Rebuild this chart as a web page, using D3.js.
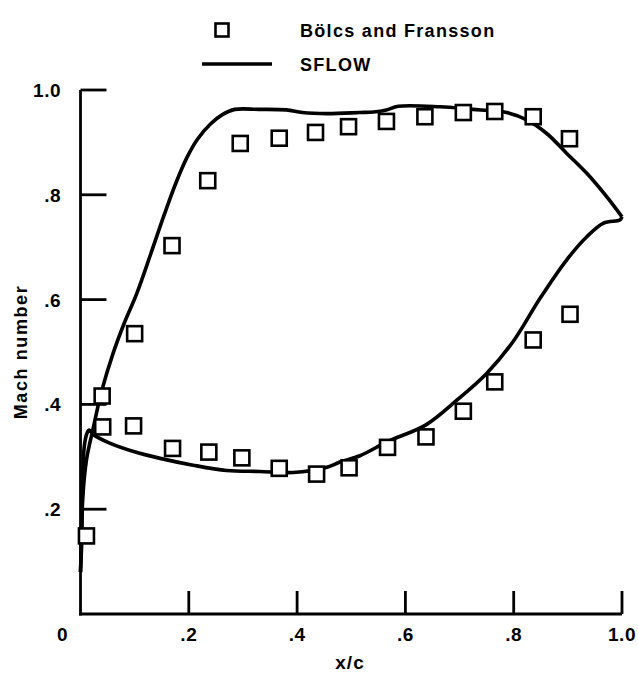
<!DOCTYPE html>
<html>
<head>
<meta charset="utf-8">
<script src="https://cdn.jsdelivr.net/npm/d3@7"></script>
<style>
  html, body { margin: 0; padding: 0; background: #fff; }
  svg text { font-family: "Liberation Sans", Arial, Helvetica, sans-serif; font-weight: bold; fill: #000; }
</style>
</head>
<body>
<svg id="chart" width="638" height="674"></svg>
<script>
// ---- data ----
const expX = [0.011, 0.040, 0.100, 0.169, 0.235, 0.295, 0.367, 0.434, 0.495, 0.565, 0.636, 0.707, 0.765, 0.836, 0.903];
const expUpper = [null, 0.416, 0.535, 0.703, 0.827, 0.898, 0.908, 0.919, 0.930, 0.940, 0.949, 0.957, 0.959, 0.949, 0.907];
const expLowerX = [0.011, 0.041, 0.098, 0.170, 0.237, 0.298, 0.367, 0.436, 0.496, 0.567, 0.638, 0.707, 0.765, 0.836, 0.904];
const expLower = [0.149, 0.357, 0.359, 0.316, 0.309, 0.298, 0.278, 0.267, 0.279, 0.318, 0.338, 0.387, 0.443, 0.523, 0.572];

const upperX = [0.000, 0.002, 0.004, 0.011, 0.024, 0.039, 0.060, 0.080, 0.104, 0.130, 0.155, 0.176, 0.196, 0.216, 0.240, 0.262, 0.285, 0.330, 0.380, 0.410, 0.455, 0.516, 0.541, 0.565, 0.587, 0.664, 0.725, 0.762, 0.787, 0.824, 0.861, 0.898, 0.935, 0.972, 1.000];
const upperY = [0.080, 0.130, 0.218, 0.294, 0.357, 0.425, 0.497, 0.553, 0.612, 0.688, 0.763, 0.822, 0.870, 0.906, 0.935, 0.953, 0.963, 0.963, 0.962, 0.957, 0.955, 0.957, 0.958, 0.962, 0.969, 0.968, 0.963, 0.960, 0.957, 0.943, 0.917, 0.879, 0.841, 0.796, 0.758];
const lowerX = [0.000, 0.002, 0.004, 0.007, 0.012, 0.016, 0.024, 0.054, 0.098, 0.147, 0.208, 0.270, 0.331, 0.393, 0.455, 0.479, 0.516, 0.567, 0.638, 0.695, 0.750, 0.799, 0.849, 0.898, 0.935, 0.966, 0.996, 1.000];
const lowerY = [0.080, 0.150, 0.250, 0.320, 0.345, 0.351, 0.342, 0.326, 0.310, 0.297, 0.284, 0.274, 0.272, 0.270, 0.280, 0.290, 0.302, 0.329, 0.361, 0.408, 0.459, 0.520, 0.603, 0.676, 0.720, 0.746, 0.752, 0.758];

const xTicks = [0, 0.2, 0.4, 0.6, 0.8, 1.0];
const xTickLabels = ["0", ".2", ".4", ".6", ".8", "1.0"];
const yTicks = [0.2, 0.4, 0.6, 0.8, 1.0];
const yTickLabels = [".2", ".4", ".6", ".8", "1.0"];
const legendLabels = ["Bölcs and Fransson", "SFLOW"];
const xTitle = "x/c";
const yTitle = "Mach number";

// ---- layout ----
const svg = d3.select("#chart");
const x = d3.scaleLinear().domain([0, 1]).range([80.5, 622]);
const y = d3.scaleLinear().domain([0, 1]).range([614, 90]);

const axisW = 2.8;
const g = svg.append("g");

// axes lines
g.append("line").attr("x1", x(0)).attr("x2", x(0)).attr("y1", y(0) + axisW/2).attr("y2", y(1))
  .attr("stroke", "#000").attr("stroke-width", axisW);
g.append("line").attr("x1", x(0) - axisW/2).attr("x2", x(1)).attr("y1", y(0)).attr("y2", y(0))
  .attr("stroke", "#000").attr("stroke-width", axisW);

// y ticks (inward)
g.selectAll(".yt").data(yTicks).enter().append("line")
  .attr("x1", x(0)).attr("x2", x(0) + 26)
  .attr("y1", d => y(d)).attr("y2", d => y(d))
  .attr("stroke", "#000").attr("stroke-width", axisW);
// x ticks (inward)
g.selectAll(".xt").data(xTicks.slice(1)).enter().append("line")
  .attr("x1", d => x(d)).attr("x2", d => x(d))
  .attr("y1", y(0)).attr("y2", y(0) - 23)
  .attr("stroke", "#000").attr("stroke-width", axisW);

// tick labels
g.selectAll(".ytl").data(yTicks).enter().append("text")
  .attr("x", 61).attr("y", d => y(d) + 7)
  .attr("text-anchor", "end").attr("font-size", 19).attr("letter-spacing", 0.5)
  .text((d, i) => yTickLabels[i]);
g.selectAll(".xtl").data(xTicks).enter().append("text")
  .attr("x", d => d === 0 ? x(d) - 18 : x(d)).attr("y", 641)
  .attr("text-anchor", "middle").attr("font-size", 19).attr("letter-spacing", 0.5)
  .text((d, i) => xTickLabels[i]);

// titles
g.append("text").attr("x", 350).attr("y", 669).attr("text-anchor", "middle")
  .attr("font-size", 19).attr("letter-spacing", 1).text(xTitle);
g.append("text").attr("transform", "translate(27,352) rotate(-90)").attr("text-anchor", "middle")
  .attr("font-size", 18).attr("letter-spacing", 1.6).text(yTitle);

// lines
const line = d3.line().x(d => x(d[0])).y(d => y(d[1])).curve(d3.curveCatmullRom.alpha(0.5));
const upper = upperX.map((v, i) => [v, upperY[i]]);
const lower = lowerX.map((v, i) => [v, lowerY[i]]);
[upper, lower].forEach(pts => {
  g.append("path").attr("d", line(pts)).attr("fill", "none")
    .attr("stroke", "#000").attr("stroke-width", 3.6).attr("stroke-linejoin", "round");
});

// squares
const sq = 15;
const expPts = [];
expX.forEach((v, i) => { if (expUpper[i] !== null) expPts.push([v, expUpper[i]]); });
expLowerX.forEach((v, i) => expPts.push([v, expLower[i]]));
g.selectAll(".sq").data(expPts).enter().append("rect")
  .attr("x", d => x(d[0]) - sq/2).attr("y", d => y(d[1]) - sq/2)
  .attr("width", sq).attr("height", sq)
  .attr("fill", "#fff").attr("stroke", "#000").attr("stroke-width", 2.6);

// legend
const lg = svg.append("g");
lg.append("rect").attr("x", 222 - 6.5).attr("y", 30 - 6.5).attr("width", 13).attr("height", 13)
  .attr("fill", "#fff").attr("stroke", "#000").attr("stroke-width", 2.6);
lg.append("text").attr("x", 300).attr("y", 37).attr("font-size", 18).attr("letter-spacing", 1.3).text(legendLabels[0]);
lg.append("line").attr("x1", 202).attr("x2", 272).attr("y1", 64).attr("y2", 64)
  .attr("stroke", "#000").attr("stroke-width", 3.6);
lg.append("text").attr("x", 300).attr("y", 71).attr("font-size", 18).attr("letter-spacing", 1.3).text(legendLabels[1]);
</script>
</body>
</html>
